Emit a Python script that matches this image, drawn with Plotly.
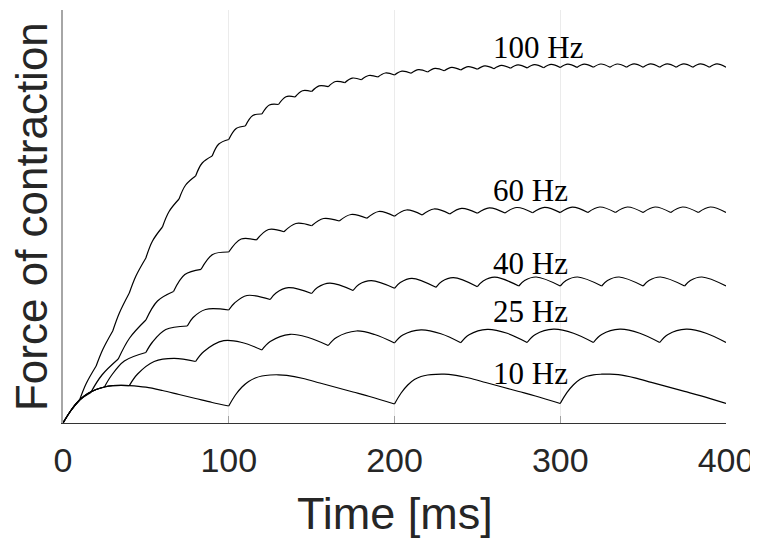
import plotly.graph_objects as go

# ---------------- data (force in arbitrary units, time in ms) ----------------
stim_100 = [0, 10, 20, 30, 40, 50, 60, 70, 80, 90, 100, 110, 120, 130, 140, 150, 160, 170, 180, 190,
            200, 210, 220, 230, 240, 250, 260, 270, 280, 290, 300, 310, 320, 330, 340, 350, 360, 370,
            380, 390, 400]
t_100 = [0, 5, 10, 14, 20, 24, 30, 34, 40, 44, 50, 54, 60, 64, 70, 74, 80, 84, 90, 94, 100,
         104.5, 110, 114.5, 120, 124.5, 130, 134.5, 140, 144.5, 150, 154.5, 160, 164.5, 170,
         174.5, 180, 184.5, 190, 194.5, 200, 204.5, 210, 214.5, 220, 224.5, 230, 234.5, 240,
         244.5, 250, 254.5, 260, 264.5, 270, 274.5, 280, 284.5, 290, 294.5, 300, 304.5, 310,
         314.5, 320, 324.5, 330, 334.5, 340, 344.5, 350, 354.5, 360, 364.5, 370, 374.5, 380,
         384.5, 390, 394.5, 400]
f_100 = [0, 13, 23, 39.5, 57, 73.5, 92, 110, 130, 147, 165, 182, 196, 211.5, 224, 238, 247, 260, 267,
         279, 283.5, 294.5, 297, 307.5, 309, 318, 318.5, 326.3, 326, 332.3, 331.5, 337.2, 336.3,
         341.5, 340.3, 344.9, 343.3, 347.5, 346, 350, 348, 351.8, 349.7, 353.4, 351, 354.6, 352.2,
         355.7, 353, 356.4, 353.7, 357.1, 354.3, 357.6, 354.8, 358.1, 355.1, 358.4, 355.3, 358.6,
         355.5, 358.8, 355.6, 358.9, 355.7, 359, 355.7, 359, 355.8, 359.1, 355.8, 359.1, 355.8,
         359.1, 355.8, 359.1, 355.8, 359.1, 355.8, 359.1, 355.8]

stim_60 = [0, 16.67, 33.33, 50, 66.67, 83.33, 100, 116.67, 133.33, 150, 166.67, 183.33, 200,
           216.67, 233.33, 250, 266.67, 283.33, 300, 316.67, 333.33, 350, 366.67, 383.33, 400]
t_60 = [0, 5, 10, 16.67, 23.5, 33.33, 40.2, 50, 57, 66.67, 73.5, 83.33, 90.3, 100, 107.5, 116.67,
        124, 133.33, 140.5, 150, 157.2, 166.67, 173.8, 183.33, 190.5, 200, 207.2, 216.67, 223.8,
        233.33, 240.5, 250, 257.2, 266.67, 273.8, 283.33, 290.5, 300, 307.2, 316.67, 323.8,
        333.33, 340.5, 350, 357.2, 366.67, 373.8, 383.33, 390.5, 400]
f_60 = [0, 13, 23, 30.3, 48, 64, 85, 103, 122, 131.5, 148.5, 153.7, 168.5, 171, 184, 183,
        193.5, 191.3, 199.5, 197.3, 204.5, 202, 208.5, 204.7, 211.5, 206.8, 213, 208, 214,
        209, 214.7, 209.7, 215.2, 210, 215.5, 210.2, 215.7, 210.4, 215.9, 210.5, 216,
        210.5, 216, 210.5, 216, 210.5, 216, 210.5, 216, 210.5]

stim_40 = [0, 25, 50, 75, 100, 125, 150, 175, 200, 225, 250, 275, 300, 325, 350, 375, 400]
t_40 = [0, 5, 10, 15, 20, 25, 29, 37, 50, 54, 62, 75, 78.5, 86, 100, 103.5, 111, 125,
        128.5, 136, 150, 153.5, 161, 175, 178.5, 186, 200, 203.5, 210.5, 225, 228.5, 235.5, 250,
        253.5, 260.5, 275, 278.5, 285.5, 300, 303.5, 310.5, 325, 328.5, 335.5, 350,
        353.5, 360.5, 375, 378.5, 385.5, 400]
f_40 = [0, 13, 23, 29.5, 33.5, 36, 47, 62, 70.5, 81, 93.5, 97, 105.5, 113.5, 113, 120, 127.5, 123.5,
        130, 135.3, 129.5, 135.5, 139.8, 132.5, 138.5, 142.3, 134.7, 140.5, 144.7, 135.7, 141.5,
        145.3, 136.3, 142, 145.8, 137, 142.5, 146, 137, 142.5, 146, 137, 142.5, 146, 137,
        142.5, 146, 137, 142.5, 146, 137]

stim_25 = [0, 40, 80, 120, 160, 200, 240, 280, 320, 360, 400]
t_25 = [0, 5, 10, 15, 20, 25, 30, 35, 40, 45, 55, 67, 80, 85, 97, 108, 120, 125, 137, 148, 160,
        165, 177, 188, 200, 205, 216, 228, 240, 245, 256, 268, 280, 285, 296, 308, 320,
        325, 336, 348, 360, 365, 376, 388, 400]
f_25 = [0, 13, 23, 29.5, 33.5, 36, 37.3, 37.7, 37.4, 49, 61.5, 64.7, 61.5, 71.5, 82.3, 80.5, 73,
        81.5, 88.7, 85.5, 77.5, 85.5, 92, 88.5, 80, 88, 93.2, 89.3, 80.3, 88.3, 93.7, 89.7, 80.5,
        88.5, 93.8, 89.8, 80.5, 88.5, 93.8, 89.8, 80.5, 88.5, 93.8, 89.8, 80.5]

stim_10 = [0, 100, 200, 300, 400]
t_10 = [0, 5, 10, 15, 20, 25, 30, 35, 40, 50, 60, 70, 80, 90, 100,
        104, 108, 112, 116, 120, 125, 130, 135, 145, 155, 165, 175, 185, 200,
        204, 208, 212, 216, 220, 225, 230, 235, 245, 255, 265, 275, 285, 300,
        304, 308, 312, 316, 320, 325, 330, 335, 345, 355, 365, 375, 385, 400]
f_10 = [0, 13, 23, 29.5, 33.5, 36, 37.3, 37.7, 37.4, 35.8, 32.5, 28.5, 24.5, 20.5, 17,
        28, 36, 41.5, 45, 47, 48, 48.2, 47.6, 44.5, 40, 35.5, 31, 26.5, 19,
        30, 38, 43.5, 46.5, 48, 48.7, 48.8, 48.2, 45, 40.5, 36, 31.5, 27, 19.5,
        30.3, 38.2, 43.7, 46.7, 48.2, 48.8, 48.9, 48.3, 45.1, 40.6, 36.1, 31.6, 27.1, 19.5]

labels = ["100 Hz", "60 Hz", "40 Hz", "25 Hz", "10 Hz"]
label_t = [258.5, 258.5, 258.5, 258.5, 258.5]
label_f = [375.5, 232.5, 159.5, 111.5, 49.5]

x_ticks = [0, 100, 200, 300, 400]


def split_at_stimuli(t, f, stim):
    """Break the curve at each stimulus so every twitch segment is smoothed separately."""
    breaks = set(stim[1:-1])
    xs, ys = [], []
    for ti, fi in zip(t, f):
        xs.append(ti)
        ys.append(fi)
        if ti in breaks:
            xs.append(None)
            ys.append(None)
            xs.append(ti)
            ys.append(fi)
    return xs, ys


fig = go.Figure()
for t, f, stim in [(t_10, f_10, stim_10), (t_25, f_25, stim_25), (t_40, f_40, stim_40),
                   (t_60, f_60, stim_60), (t_100, f_100, stim_100)]:
    xs, ys = split_at_stimuli(t, f, stim)
    fig.add_trace(go.Scatter(x=xs, y=ys, mode="lines", connectgaps=False,
                             line=dict(color="black", width=1.2, shape="spline", smoothing=1),
                             hoverinfo="skip", showlegend=False))

for txt, lt, lf in zip(labels, label_t, label_f):
    fig.add_annotation(x=lt, y=lf, xref="x", yref="y", text=txt, showarrow=False,
                       xanchor="left", yanchor="middle",
                       font=dict(family="Liberation Serif", size=31, color="black"))

fig.add_annotation(x=0.5, y=-0.22, xref="paper", yref="paper", text="Time [ms]",
                   showarrow=False, xanchor="center", yanchor="middle",
                   font=dict(family="Liberation Sans", size=45, color="#262626"))
fig.add_annotation(x=-0.0475, y=0.5, xref="paper", yref="paper", text="Force of contraction",
                   showarrow=False, textangle=-90, xanchor="center", yanchor="middle",
                   borderpad=0,
                   font=dict(family="Liberation Sans", size=44, color="#262626"))

# The page body adds an 8 px offset, so the figure is 8 px smaller than the window.
fig.update_layout(
    width=750, height=536,
    margin=dict(l=55, r=32, t=2, b=121),
    paper_bgcolor="white", plot_bgcolor="white",
    xaxis=dict(range=[0, 400], tickvals=x_ticks, ticktext=[str(v) for v in x_ticks],
               ticks="inside", ticklen=7, tickcolor="#a0a0a0", tickwidth=1,
               showgrid=True, gridcolor="#ebebeb", gridwidth=1,
               showline=True, linecolor="#333333", linewidth=1.3, zeroline=False,
               tickfont=dict(family="Liberation Sans", size=34, color="#262626"),
               ticklabelstandoff=7, automargin=False, fixedrange=True),
    yaxis=dict(range=[0, 413], showticklabels=False, ticks="", showgrid=False,
               showline=True, linecolor="#a6a6a6", linewidth=1.5, zeroline=False,
               automargin=False, fixedrange=True),
)

fig.write_html("out.html")
